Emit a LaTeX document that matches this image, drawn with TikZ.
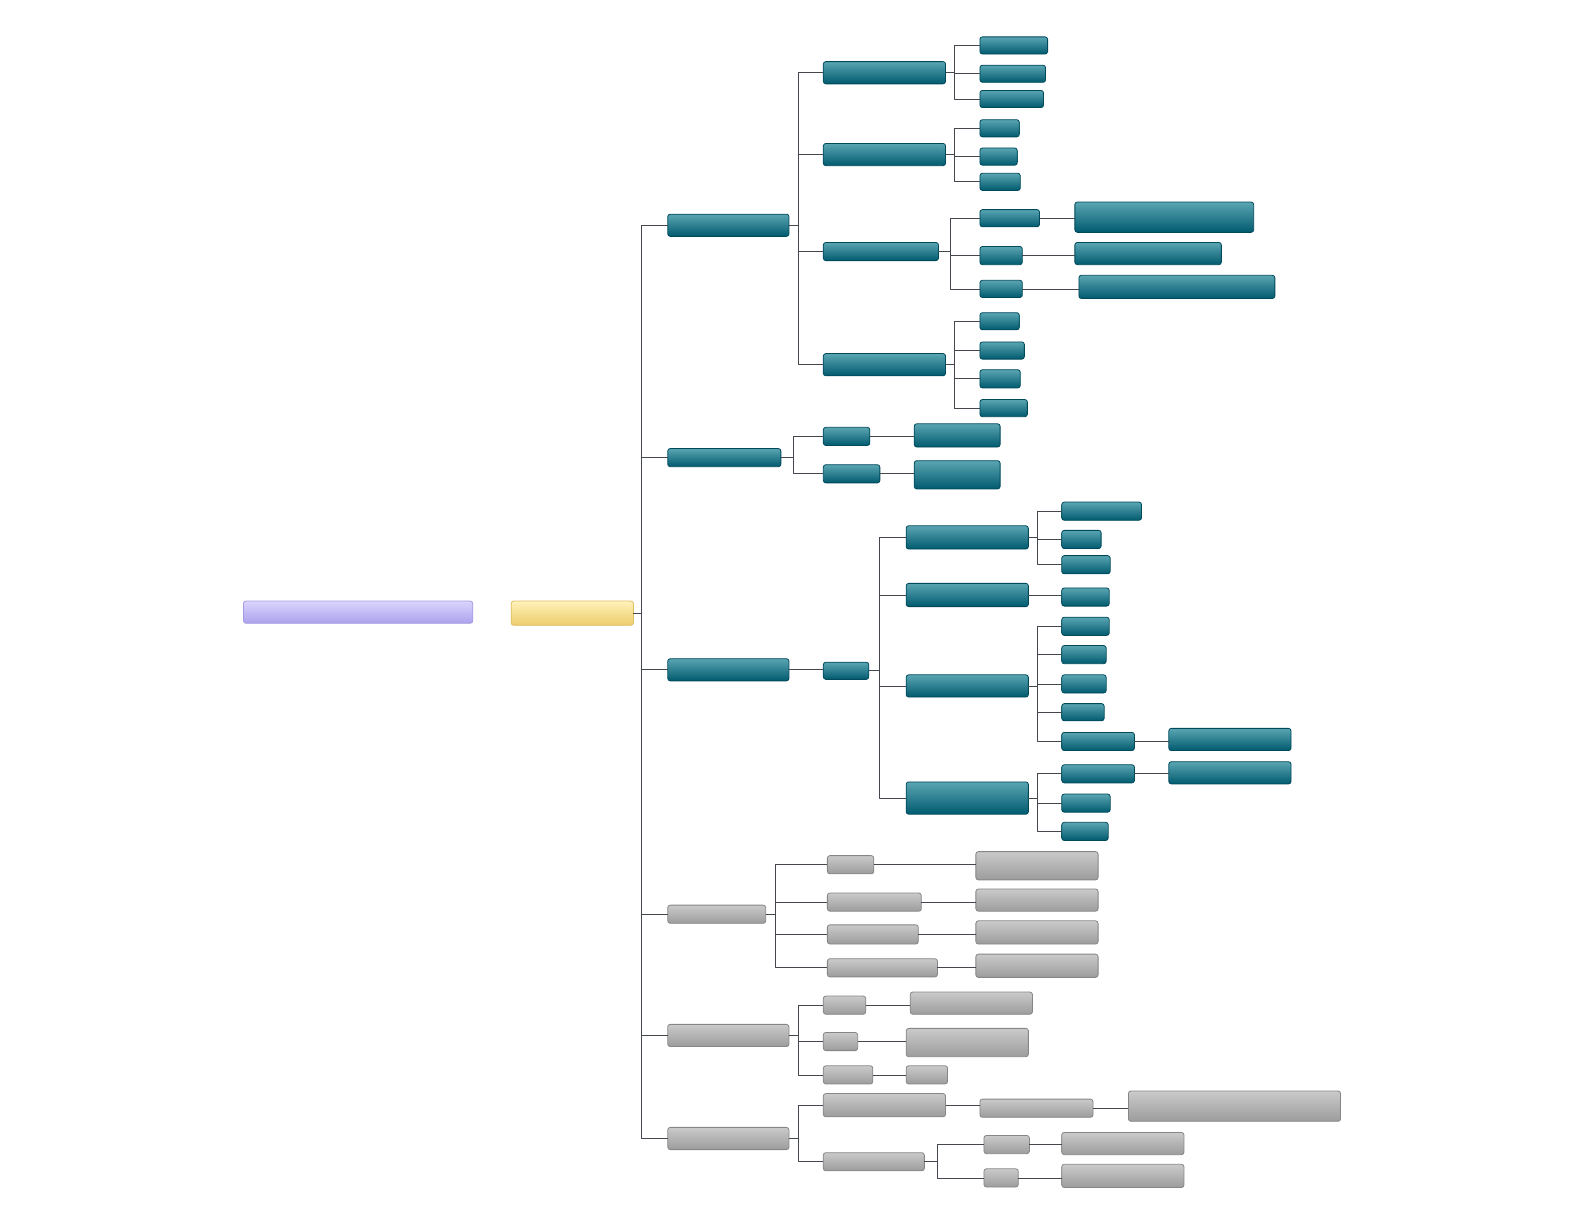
\documentclass[tikz,border=0pt]{standalone}
\usepackage{tikz}
\usetikzlibrary{positioning,calc}

\definecolor{tealtop}{HTML}{5AA5B2}
\definecolor{tealbot}{HTML}{005A6E}
\definecolor{tealline}{HTML}{00495A}
\definecolor{greytop}{HTML}{CACACA}
\definecolor{greybot}{HTML}{9C9C9C}
\definecolor{greyline}{HTML}{868686}
\definecolor{lilactop}{HTML}{DAD4FF}
\definecolor{lilacbot}{HTML}{ACA2EC}
\definecolor{lilacline}{HTML}{A59CE0}
\definecolor{sandtop}{HTML}{FFF2B8}
\definecolor{sandbot}{HTML}{EDCC6C}
\definecolor{sandline}{HTML}{DDBE62}
\definecolor{wire}{HTML}{45474E}

\begin{document}
\begin{tikzpicture}[x=1pt, y=-1pt, line join=round]
    \tikzset{
        box/.style={rectangle, rounded corners=2.5pt, inner sep=0pt, outer sep=0pt, line width=0.8pt},
        tbox/.style={box, draw=tealline, top color=tealtop, bottom color=tealbot},
        gbox/.style={box, draw=greyline, top color=greytop, bottom color=greybot},
        conn/.style={draw=wire, line width=0.7pt},
        trunk/.style={draw=wire, line width=1.1pt}
    }
    \useasboundingbox (0,0) rectangle (1568,1212);

    % Root and topic
    \node[box, draw=lilacline, top color=lilactop, bottom color=lilacbot, minimum width=227pt, minimum height=22pt] (root) at (354.5,606) {};
    \node[box, draw=sandline, top color=sandtop, bottom color=sandbot, minimum width=121pt, minimum height=24pt] (topic) at (566.5,607) {};

    % Main branches
    \node[tbox, minimum width=120pt, minimum height=22pt] (A) at (721,223) {};
    \node[tbox, minimum width=112pt, minimum height=18pt] (B) at (717,453) {};
    \node[tbox, minimum width=120pt, minimum height=22pt] (C) at (721,663) {};
    \node[gbox, minimum width=97pt, minimum height=18pt] (D) at (709.5,905) {};
    \node[gbox, minimum width=120pt, minimum height=22pt] (E) at (721,1025) {};
    \node[gbox, minimum width=120pt, minimum height=22pt] (F) at (721,1127) {};

    % Branch A
    \node[tbox, minimum width=121pt, minimum height=22pt] (A1) at (875.5,72) {};
    \node[tbox, minimum width=121pt, minimum height=22pt] (A2) at (875.5,153) {};
    \node[tbox, minimum width=114pt, minimum height=18pt] (A3) at (872,249) {};
    \node[tbox, minimum width=121pt, minimum height=22pt] (A4) at (875.5,361) {};

    \node[tbox, minimum width=67pt, minimum height=17pt] (A1a) at (1003.5,45) {};
    \node[tbox, minimum width=65pt, minimum height=17pt] (A1b) at (1002.5,73) {};
    \node[tbox, minimum width=63pt, minimum height=17pt] (A1c) at (1001.5,98) {};

    \node[tbox, minimum width=39pt, minimum height=17pt] (A2a) at (989.5,127) {};
    \node[tbox, minimum width=37pt, minimum height=17pt] (A2b) at (988.5,155) {};
    \node[tbox, minimum width=40pt, minimum height=17pt] (A2c) at (990,180) {};

    \node[tbox, minimum width=59pt, minimum height=17pt] (A3a) at (999.5,216) {};
    \node[tbox, minimum width=42pt, minimum height=18pt] (A3b) at (991,253) {};
    \node[tbox, minimum width=42pt, minimum height=17pt] (A3c) at (991,286) {};
    \node[tbox, minimum width=177pt, minimum height=30pt] (A3a1) at (1152.5,215) {};
    \node[tbox, minimum width=145pt, minimum height=22pt] (A3b1) at (1136.5,251) {};
    \node[tbox, minimum width=194pt, minimum height=23pt] (A3c1) at (1165,284) {};

    \node[tbox, minimum width=39pt, minimum height=17pt] (A4a) at (989.5,318) {};
    \node[tbox, minimum width=44pt, minimum height=17pt] (A4b) at (992,347) {};
    \node[tbox, minimum width=40pt, minimum height=18pt] (A4c) at (990,375) {};
    \node[tbox, minimum width=47pt, minimum height=17pt] (A4d) at (993.5,404) {};

    % Branch B
    \node[tbox, minimum width=46pt, minimum height=18pt] (B1) at (838,432) {};
    \node[tbox, minimum width=56pt, minimum height=18pt] (B2) at (843,469) {};
    \node[tbox, minimum width=85pt, minimum height=23pt] (B1a) at (947.5,431) {};
    \node[tbox, minimum width=85pt, minimum height=28pt] (B2a) at (947.5,470) {};

    % Branch C
    \node[tbox, minimum width=45pt, minimum height=17pt] (C1) at (837.5,664) {};
    \node[tbox, minimum width=121pt, minimum height=23pt] (C1a) at (957.5,532) {};
    \node[tbox, minimum width=121pt, minimum height=23pt] (C1b) at (957.5,589) {};
    \node[tbox, minimum width=121pt, minimum height=22pt] (C1c) at (957.5,679) {};
    \node[tbox, minimum width=121pt, minimum height=32pt] (C1d) at (957.5,790) {};

    \node[tbox, minimum width=79pt, minimum height=18pt] (C1a1) at (1090.5,506) {};
    \node[tbox, minimum width=39pt, minimum height=18pt] (C1a2) at (1070.5,534) {};
    \node[tbox, minimum width=48pt, minimum height=18pt] (C1a3) at (1075,559) {};

    \node[tbox, minimum width=47pt, minimum height=18pt] (C1b1) at (1074.5,591) {};

    \node[tbox, minimum width=47pt, minimum height=18pt] (C1c1) at (1074.5,620) {};
    \node[tbox, minimum width=44pt, minimum height=18pt] (C1c2) at (1073,648) {};
    \node[tbox, minimum width=44pt, minimum height=18pt] (C1c3) at (1073,677) {};
    \node[tbox, minimum width=42pt, minimum height=17pt] (C1c4) at (1072,705) {};
    \node[tbox, minimum width=72pt, minimum height=18pt] (C1c5) at (1087,734) {};
    \node[tbox, minimum width=121pt, minimum height=22pt] (C1c5a) at (1217.5,732) {};

    \node[tbox, minimum width=72pt, minimum height=18pt] (C1d1) at (1087,766) {};
    \node[tbox, minimum width=48pt, minimum height=18pt] (C1d2) at (1075,795) {};
    \node[tbox, minimum width=46pt, minimum height=18pt] (C1d3) at (1074,823) {};
    \node[tbox, minimum width=121pt, minimum height=22pt] (C1d1a) at (1217.5,765) {};

    % Branch D
    \node[gbox, minimum width=46pt, minimum height=18pt] (D1) at (842,856) {};
    \node[gbox, minimum width=93pt, minimum height=18pt] (D2) at (865.5,893) {};
    \node[gbox, minimum width=90pt, minimum height=19pt] (D3) at (864,925) {};
    \node[gbox, minimum width=109pt, minimum height=18pt] (D4) at (873.5,958) {};
    \node[gbox, minimum width=121pt, minimum height=28pt] (D1a) at (1026.5,857) {};
    \node[gbox, minimum width=121pt, minimum height=22pt] (D2a) at (1026.5,891) {};
    \node[gbox, minimum width=121pt, minimum height=23pt] (D3a) at (1026.5,923) {};
    \node[gbox, minimum width=121pt, minimum height=23pt] (D4a) at (1026.5,956) {};

    % Branch E
    \node[gbox, minimum width=42pt, minimum height=18pt] (E1) at (836,995) {};
    \node[gbox, minimum width=34pt, minimum height=18pt] (E2) at (832,1031) {};
    \node[gbox, minimum width=49pt, minimum height=18pt] (E3) at (839.5,1064) {};
    \node[gbox, minimum width=121pt, minimum height=22pt] (E1a) at (961.5,993) {};
    \node[gbox, minimum width=121pt, minimum height=28pt] (E2a) at (957.5,1032) {};
    \node[gbox, minimum width=41pt, minimum height=18pt] (E3a) at (917.5,1064) {};

    % Branch F
    \node[gbox, minimum width=121pt, minimum height=23pt] (F1) at (875.5,1094) {};
    \node[gbox, minimum width=112pt, minimum height=18pt] (F1a) at (1026,1097) {};
    \node[gbox, minimum width=210pt, minimum height=30pt] (F1b) at (1222,1095) {};
    \node[gbox, minimum width=100pt, minimum height=18pt] (F2) at (865,1150) {};
    \node[gbox, minimum width=45pt, minimum height=18pt] (F2a) at (996.5,1133) {};
    \node[gbox, minimum width=34pt, minimum height=18pt] (F2b) at (991,1166) {};
    \node[gbox, minimum width=121pt, minimum height=22pt] (F2a1) at (1111.5,1132) {};
    \node[gbox, minimum width=121pt, minimum height=23pt] (F2b1) at (1111.5,1164) {};

    % Fan-out connections
    \foreach \c in {A,B,C,D,E,F}
        \draw[trunk] (topic.east) -- ++(8,0) |- (\c.west);
    \foreach \c in {A1,A2,A3,A4}
        \draw[conn] (A.east) -- ++(9,0) |- (\c.west);
    \foreach \c in {A1a,A1b,A1c}
        \draw[conn] (A1.east) -- ++(9,0) |- (\c.west);
    \foreach \c in {A2a,A2b,A2c}
        \draw[conn] (A2.east) -- ++(9,0) |- (\c.west);
    \foreach \c in {A3a,A3b,A3c}
        \draw[conn] (A3.east) -- ++(12,0) |- (\c.west);
    \foreach \c in {A4a,A4b,A4c,A4d}
        \draw[conn] (A4.east) -- ++(9,0) |- (\c.west);
    \foreach \c in {B1,B2}
        \draw[conn] (B.east) -- ++(12,0) |- (\c.west);
    \foreach \c in {C1a,C1b,C1c,C1d}
        \draw[conn] (C1.east) -- ++(10,0) |- (\c.west);
    \foreach \c in {C1a1,C1a2,C1a3}
        \draw[conn] (C1a.east) -- ++(9,0) |- (\c.west);
    \foreach \c in {C1c1,C1c2,C1c3,C1c4,C1c5}
        \draw[conn] (C1c.east) -- ++(9,0) |- (\c.west);
    \foreach \c in {C1d1,C1d2,C1d3}
        \draw[conn] (C1d.east) -- ++(9,0) |- (\c.west);
    \foreach \c in {D1,D2,D3,D4}
        \draw[conn] (D.east) -- ++(10,0) |- (\c.west);
    \foreach \c in {E1,E2,E3}
        \draw[conn] (E.east) -- ++(9,0) |- (\c.west);
    \foreach \c in {F1,F2}
        \draw[conn] (F.east) -- ++(9,0) |- (\c.west);
    \foreach \c in {F2a,F2b}
        \draw[conn] (F2.east) -- ++(13,0) |- (\c.west);

    % Single links
    \foreach \p/\c in {A3a/A3a1, A3b/A3b1, A3c/A3c1, B1/B1a, B2/B2a, C/C1, C1b/C1b1,
                       C1c5/C1c5a, C1d1/C1d1a, D1/D1a, D2/D2a, D3/D3a, D4/D4a,
                       E1/E1a, E2/E2a, E3/E3a, F1/F1a, F1a/F1b, F2a/F2a1, F2b/F2b1}
        \draw[conn] (\p.east) -- (\p.east -| \c.west);
\end{tikzpicture}
\end{document}
